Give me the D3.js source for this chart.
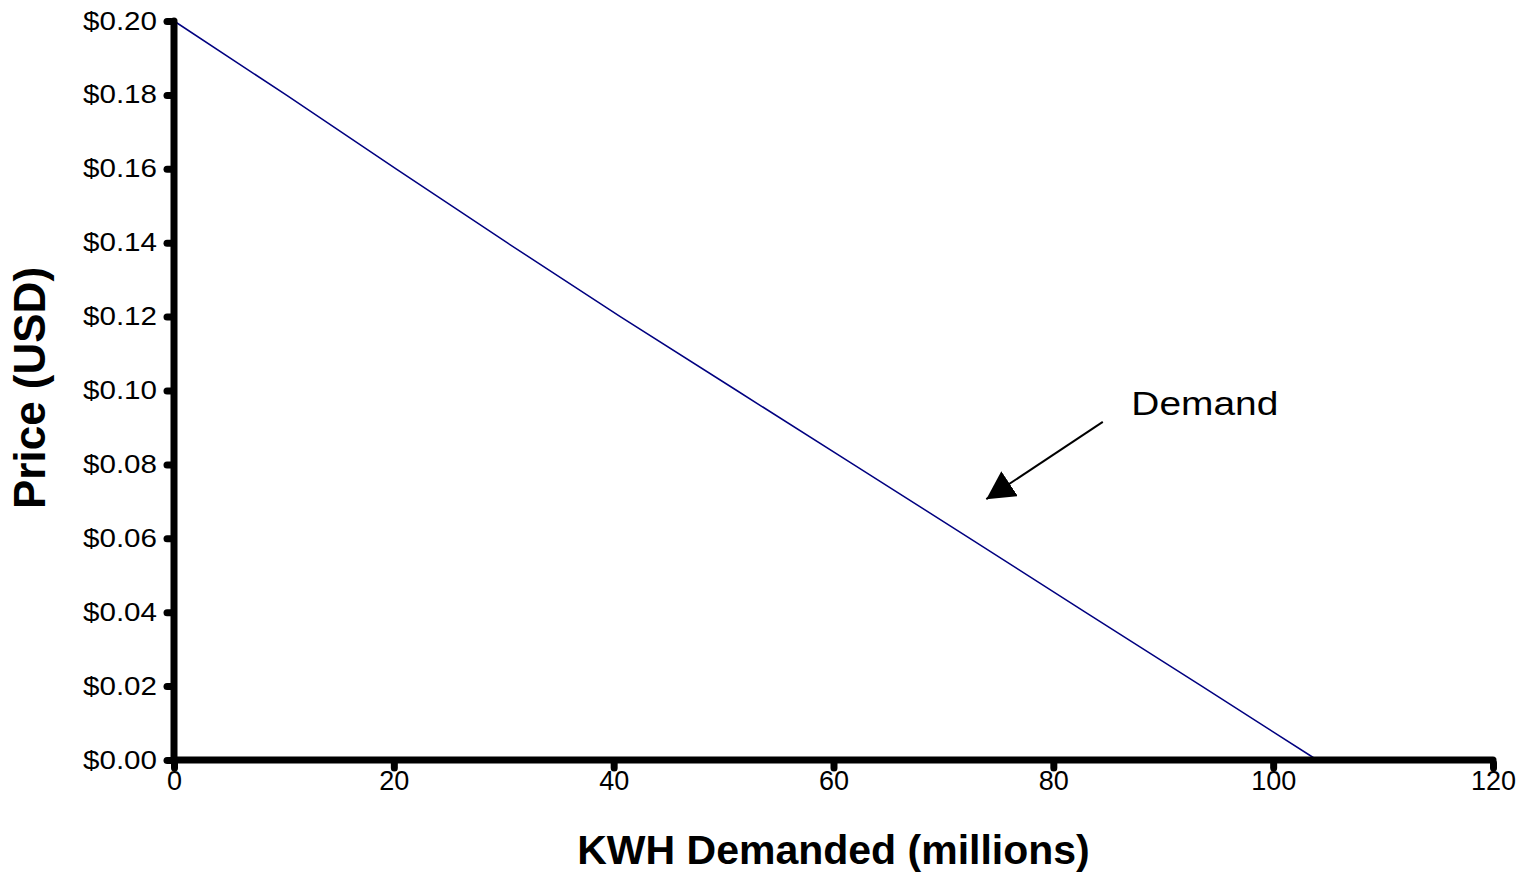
<!DOCTYPE html>
<html><head><meta charset="utf-8">
<script src="https://cdn.jsdelivr.net/npm/d3@7"></script>
<style>body{margin:0;background:#fff}svg{display:block}text{font-family:"Liberation Sans",Arial,sans-serif}</style>
</head><body><svg id="c" width="1528" height="896"></svg>
<script>
// Data
const quantity = [0, 10.2, 20.2, 30.3, 40.6, 51.2, 61.8, 72.4, 82.9, 93.5, 104.0];
const price    = [0.20, 0.18, 0.16, 0.14, 0.12, 0.10, 0.08, 0.06, 0.04, 0.02, 0.00];
const xTicks = [0, 20, 40, 60, 80, 100, 120];
const yTicks = [0, 0.02, 0.04, 0.06, 0.08, 0.10, 0.12, 0.14, 0.16, 0.18, 0.20];
const xTitle = "KWH Demanded (millions)";
const yTitle = "Price (USD)";
const annotationText = "Demand";
const arrowFrom = [84.5, 0.0915];
const arrowTo = [73.9, 0.0706];
const labelAt = [87.1, 0.0938];

const svg = d3.select("#c");
const x = d3.scaleLinear().domain([0,120]).range([174,1493]);
const y = d3.scaleLinear().domain([0,0.2]).range([760,21]);

// line
svg.append("path")
  .datum(quantity.map((q,i)=>[q,price[i]]))
  .attr("fill","none").attr("stroke","#000080").attr("stroke-width",1.5)
  .attr("d", d3.line().x(d=>x(d[0])).y(d=>y(d[1])));

// y axis
const ya = svg.append("g").attr("transform",`translate(${x(0)},0)`)
  .call(d3.axisLeft(y).tickValues(yTicks).tickFormat(d3.format("$.2f")).tickSize(7).tickPadding(20));
ya.select(".domain").remove();
ya.selectAll(".tick line").attr("stroke","#000").attr("stroke-width",7).attr("stroke-linecap","round").attr("x1",-3);
ya.selectAll(".tick text").attr("font-size",25).attr("fill","#000")
  .attr("font-family","Liberation Sans, Arial, sans-serif")
  .attr("textLength",74).attr("lengthAdjust","spacingAndGlyphs").attr("x",-17);

const xa = svg.append("g").attr("transform",`translate(0,${y(0)})`)
  .call(d3.axisBottom(x).tickValues(xTicks).tickSize(8).tickPadding(3));
xa.select(".domain").remove();
xa.selectAll(".tick line").attr("stroke","#000").attr("stroke-width",7).attr("stroke-linecap","round").attr("y1",3);
xa.selectAll(".tick text").attr("font-size",27).attr("fill","#000").attr("font-family","Liberation Sans, Arial, sans-serif");

// axis lines
svg.append("line").attr("x1",x(0)).attr("x2",x(120)).attr("y1",y(0)).attr("y2",y(0))
  .attr("stroke","#000").attr("stroke-width",7).attr("stroke-linecap","round");
svg.append("line").attr("x1",x(0)).attr("x2",x(0)).attr("y1",y(0)).attr("y2",y(0.2))
  .attr("stroke","#000").attr("stroke-width",7).attr("stroke-linecap","round");

// titles
svg.append("text").attr("x",(x(0)+x(120))/2).attr("y",864).attr("text-anchor","middle")
  .attr("font-weight","bold").attr("font-size",41).text(xTitle);
svg.append("text").attr("transform",`translate(45,388) rotate(-90)`).attr("text-anchor","middle")
  .attr("font-weight","bold").attr("font-size",44).text(yTitle);

// annotation
const defs = svg.append("defs");
defs.append("marker").attr("id","ah").attr("viewBox","0 0 10 10").attr("refX",10).attr("refY",5)
  .attr("markerWidth",28).attr("markerHeight",30).attr("preserveAspectRatio","none")
  .attr("markerUnits","userSpaceOnUse").attr("orient","auto")
  .append("path").attr("d","M0,0L10,5L0,10Z").attr("fill","#000");
svg.append("line").attr("x1",x(arrowFrom[0])).attr("y1",y(arrowFrom[1])).attr("x2",x(arrowTo[0])).attr("y2",y(arrowTo[1]))
  .attr("stroke","#000").attr("stroke-width",2).attr("marker-end","url(#ah)");
svg.append("text").attr("x",x(labelAt[0])).attr("y",y(labelAt[1])+2).attr("font-size",34)
  .attr("textLength",147).attr("lengthAdjust","spacingAndGlyphs").text(annotationText);
</script></body></html>
